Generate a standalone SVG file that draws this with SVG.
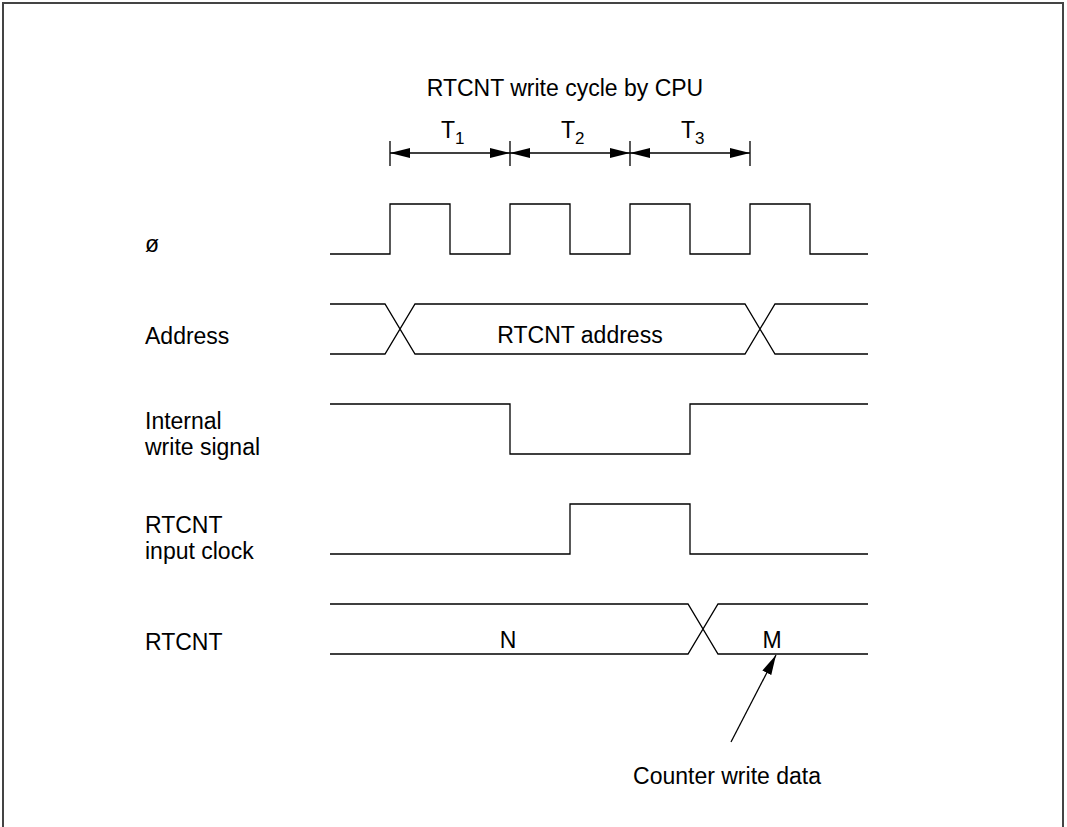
<svg xmlns="http://www.w3.org/2000/svg" width="1067" height="827" viewBox="0 0 1067 827">
<style>
text{font-family:"Liberation Sans",Arial,sans-serif;font-size:23px;fill:#000}
.w{fill:none;stroke:#000;stroke-width:1.3}
.sub{font-size:17px}
</style>
<defs>
<marker id="ah" viewBox="0 0 20 10" refX="20" refY="5" markerWidth="20" markerHeight="10" markerUnits="userSpaceOnUse" orient="auto-start-reverse">
<path d="M0,0 L20,5 L0,10 z" fill="#000"/>
</marker>
</defs>
<rect x="3" y="3" width="1060" height="830" fill="#fff" stroke="#444" stroke-width="2"/>
<g id="title"><text x="565" y="96" text-anchor="middle">RTCNT write cycle by CPU</text></g>
<g id="periods">
<text x="441" y="138">T<tspan class="sub" dy="6">1</tspan></text>
<text x="561" y="138">T<tspan class="sub" dy="6">2</tspan></text>
<text x="681" y="138">T<tspan class="sub" dy="6">3</tspan></text>
<path class="w" d="M390,141 V166 M510,141 V166 M630,141 V166 M750,141 V166"/>
</g>
<g id="labels">
<text x="145" y="252">ø</text>
<text x="145" y="344">Address</text>
<text x="145" y="429">Internal</text>
<text x="145" y="455">write signal</text>
<text x="145" y="533">RTCNT</text>
<text x="145" y="559">input clock</text>
<text x="145" y="650">RTCNT</text>
</g>
<g id="clock"><path class="w" d="M330,254 H390 V204 H450 V254 H510 V204 H570 V254 H630 V204 H690 V254 H750 V204 H810 V254 H868"/></g>
<g id="address">
<path class="w" d="M330,304 H385 L415,354 H745 L775,304 H868 M330,354 H385 L415,304 H745 L775,354 H868"/>
<text x="580" y="343" text-anchor="middle">RTCNT address</text>
</g>
<g id="write"><path class="w" d="M330,404 H510 V454 H690 V404 H868"/></g>
<g id="inclock"><path class="w" d="M330,554 H570 V504 H690 V554 H868"/></g>
<g id="rtcnt">
<path class="w" d="M330,604 H688 L718,654 H868 M330,654 H688 L718,604 H868"/>
<text x="508" y="648" text-anchor="middle">N</text>
<text x="772" y="648" text-anchor="middle">M</text>
</g>
<g id="note"><text x="727" y="784" text-anchor="middle">Counter write data</text></g>
<g id="connectors">
<line class="w" x1="510" y1="153" x2="390" y2="153" marker-end="url(#ah)" marker-start="url(#ah)"/>
<line class="w" x1="630" y1="153" x2="510" y2="153" marker-end="url(#ah)" marker-start="url(#ah)"/>
<line class="w" x1="750" y1="153" x2="630" y2="153" marker-end="url(#ah)" marker-start="url(#ah)"/>
<line class="w" x1="731" y1="742" x2="776" y2="655" marker-end="url(#ah)"/>
</g>
</svg>
